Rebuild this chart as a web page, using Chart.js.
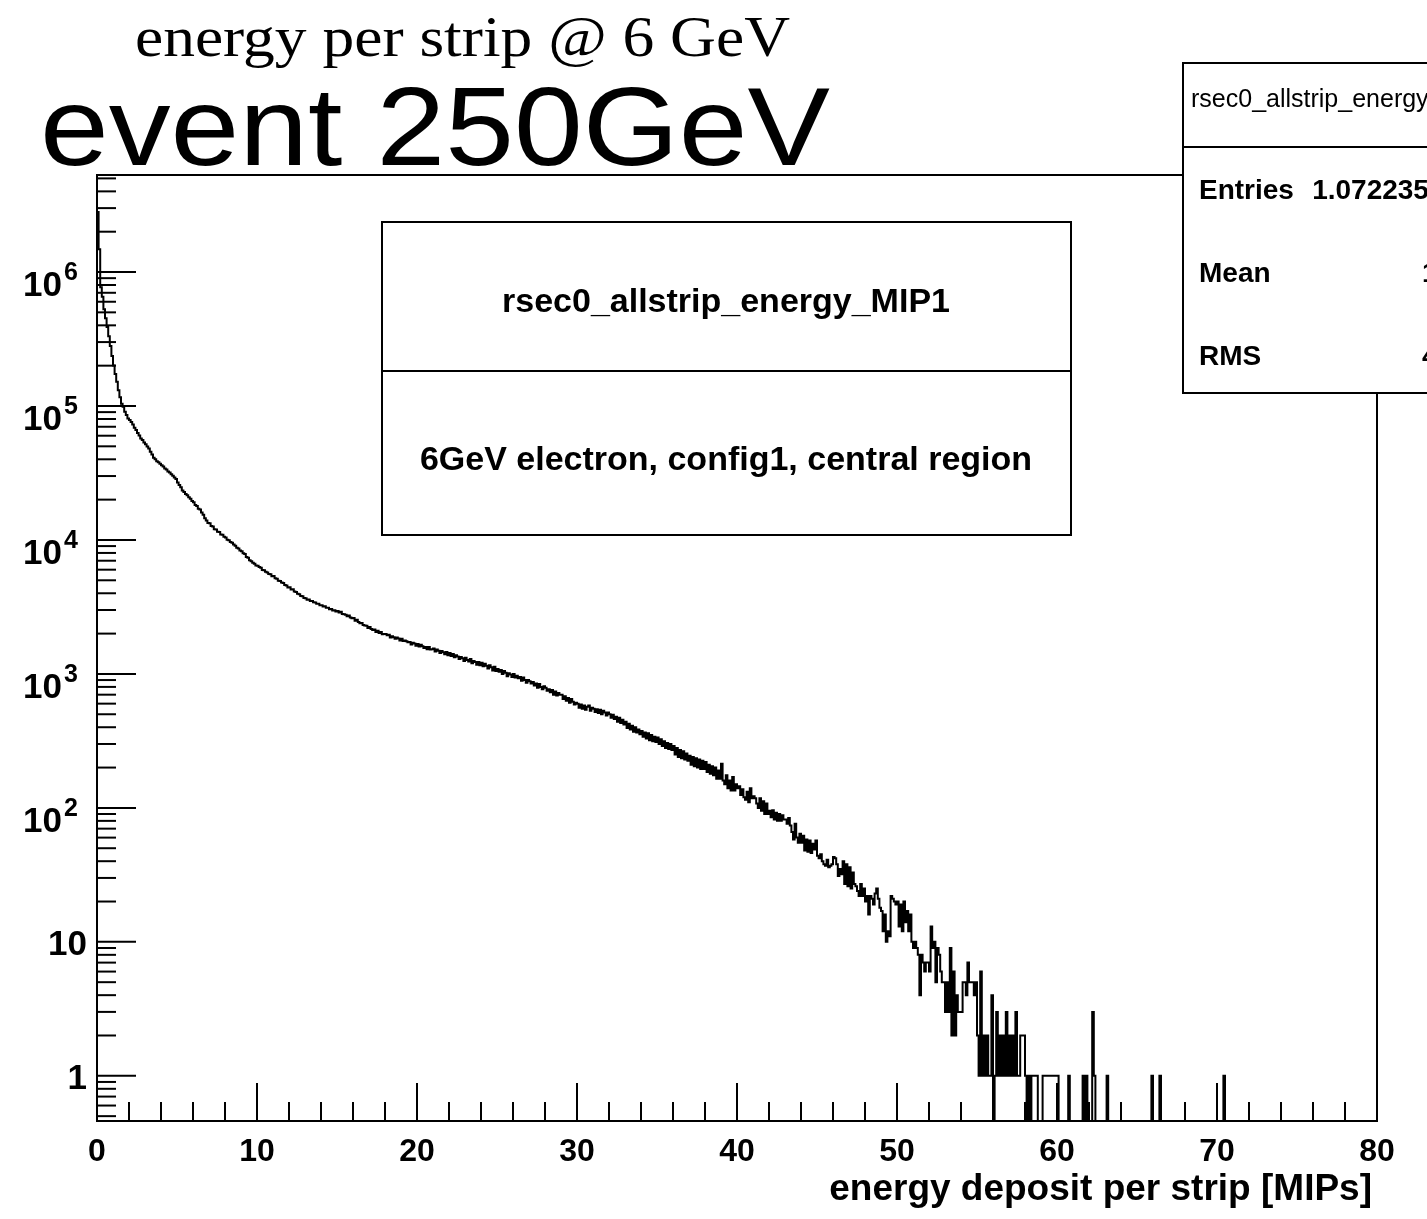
<!DOCTYPE html>
<html><head><meta charset="utf-8">
<script src="https://cdn.jsdelivr.net/npm/chart.js@4.4.1/dist/chart.umd.min.js"></script>
<style>html,body{margin:0;padding:0;background:#fff;overflow:hidden}canvas{display:block}</style>
</head><body>
<canvas id="c" width="1427" height="1219"></canvas>
<script>
// ---- data ----
const binStart = 0;
const binWidth = 0.1; // MIPs per bin
const counts = [
2800000,1480000,770000,655000,528000,452000,388000,331000,281000,236000,
201000,173000,152000,131000,116000,104000,98500,90500,85500,80500,
78500,75800,72900,68700,66200,62800,60300,57200,55700,53300,
51900,49800,48100,45500,43400,41000,40100,38700,38100,37000,
36100,35400,34100,33600,32500,31900,30900,30200,29200,28500,
26900,25700,24700,23400,22800,22000,21600,20800,20300,19500,
19100,18200,17900,17100,16900,16000,15400,14500,14000,13400,
13300,12700,12600,12000,11950,11500,11450,11000,10950,10550,
10450,10050,9950,9650,9550,9250,9050,8750,8650,8350,
8250,7950,7850,7450,7350,7050,6950,6750,6650,6450,
6420,6280,6190,5960,5930,5780,5720,5560,5540,5360,
5380,5170,5130,4970,4930,4820,4780,4620,4580,4420,
4430,4270,4280,4120,4080,3970,3930,3820,3800,3680,
3670,3580,3590,3500,3500,3430,3420,3340,3340,3260,
3260,3190,3200,3120,3120,3040,3050,2980,2990,2920,
2950,2870,2910,2800,2790,2760,2700,2730,2640,2600,
2610,2490,2540,2440,2390,2400,2320,2300,2290,2200,
2240,2160,2130,2150,2060,2100,2020,2060,1980,1990,
1990,1940,1960,1870,1910,1880,1830,1870,1840,1780,
1830,1760,1780,1750,1720,1730,1660,1710,1690,1620,
1670,1600,1650,1610,1560,1590,1530,1590,1520,1530,
1550,1470,1520,1490,1430,1480,1450,1400,1460,1380,
1430,1360,1410,1330,1380,1350,1290,1340,1310,1250,
1320,1270,1240,1290,1200,1250,1230,1170,1230,1160,
1210,1140,1190,1150,1100,1160,1120,1060,1130,1050,
1090,1040,1070,1000,1050,1020,960,1010,990,950,
1000,940,970,930,950,890,940,900,860,900,
880,850,870,820,850,790,840,800,770,810,
790,750,770,730,760,700,740,690,720,700,
700,650,680,630,660,610,650,620,590,610,
600,560,590,550,580,540,570,580,530,560,
550,520,545,510,540,500,530,515,490,515,
500,470,495,460,480,440,470,430,455,420,
440,395,425,385,410,370,400,365,385,355,
375,340,365,330,360,320,350,315,340,310,
335,300,325,290,315,280,305,275,300,270,
290,250,280,240,270,235,265,230,255,225,
245,210,240,205,235,200,230,195,225,195,
220,185,210,180,205,175,200,165,190,165,
214,160,150,175,140,160,135,170,135,150,
140,145,125,138,120,115,132,110,140,118,
122,118,108,100,118,95,112,90,108,90,
95,85,96,82,92,80,90,80,88,82,
82,76,84,74,66,58,76,60,55,64,
55,62,48,58,47,57,46,54,49,57,
44,42,45,40,38,37,41,36,37,38,
43,42,38,31,35,32,40,27,38,26,
36,25,33,27,26,24,22,27,22,25,
20,22,16,22,21,19,23,25,21,18,
17,12,16,10,12,11,22,21,20,19,
20,13,19,12,20,14,17,12,16,10,
9,10,9,8,4,8,7,6,7,7,
6,13,9,10,5,9,8,6,5,5,
3,5,3,9,2,6,2,4,3,3,
3,5,5,4,7,5,5,5,4,5,
2,1,6,1,2,1,2,1,1,4,
0,1,3,1,2,1,2,1,3,1,
2,1,2,1,3,1,1,2,2,2,
1,0,1,0,1,1,1,1,0,0,
0,1,1,1,1,1,1,1,1,1,
1,0,0,0,0,0,0,1,0,0,
0,0,0,0,0,0,1,0,1,0,
0,0,3,1,0,0,0,0,0,0,
0,1,0,0,0,0,0,0,0,0,
0,0,0,0,0,0,0,0,0,0,
0,0,0,0,0,0,0,0,0,1,
0,0,0,0,1,0,0,0,0,0,
0,0,0,0,0,0,0,0,0,0,
0,0,0,0,0,0,0,0,0,0,
0,0,0,0,0,0,0,0,0,0,
0,0,0,0,1,0,0,0,0,0,
0,0,0,0,0,0,0,0,0,0,
0,0,0,0,0,0,0,0,0,0,
0,0,0,0,0,0,0,0,0,0,
0,0,0,0,0,0,0,0,0,0,
0,0,0,0,0,0,0,0,0,0,
0,0,0,0,0,0,0,0,0,0,
0,0,0,0,0,0,0,0,0,0,
0,0,0,0,0,0,0,0,0,0,
0,0,0,0,0,0,0,0,0,0
];
const xRange = [0, 80];
const yRange = [0.46, 5.3e6];
const xMajorTicks = [0, 10, 20, 30, 40, 50, 60, 70, 80];
const xTickLabels = ['0', '10', '20', '30', '40', '50', '60', '70', '80'];
const yMajorTicks = [1, 10, 1e2, 1e3, 1e4, 1e5, 1e6];
const yTickBase = ['1', '10', '10', '10', '10', '10', '10'];
const yTickExp = ['', '', '2', '3', '4', '5', '6'];
const xAxisTitle = 'energy deposit per strip [MIPs]';
const titleTop = 'energy per strip @ 6 GeV';
const titleMain = 'event 250GeV';
const paveTitle = 'rsec0_allstrip_energy_MIP1';
const paveText = '6GeV electron, config1, central region';
const statsTitle = 'rsec0_allstrip_energy_MIP1';
const statsLabels = ['Entries', 'Mean', 'RMS'];
const statsValues = ['1.072235e+07', '1.373', '4.046'];

// ---- build dataset (histogram as step line) ----
const pts = counts.map((c, i) => ({x: binStart + i * binWidth, y: c > 0 ? c : yRange[0]}));
pts.push({x: binStart + counts.length * binWidth, y: counts[counts.length - 1] > 0 ? counts[counts.length - 1] : yRange[0]});

const SANS = '"Liberation Sans", Arial, Helvetica, sans-serif';
const SERIF = '"Liberation Serif", "Times New Roman", serif';

function fitText(ctx, txt, x, y, font, width, align) {
  ctx.save();
  ctx.font = font;
  const w = ctx.measureText(txt).width;
  const s = width ? width / w : 1;
  ctx.translate(x, y);
  ctx.scale(s, 1);
  ctx.textAlign = align || 'left';
  ctx.textBaseline = 'alphabetic';
  ctx.fillText(txt, 0, 0);
  ctx.restore();
}
function line(ctx, x1, y1, x2, y2) { ctx.beginPath(); ctx.moveTo(x1, y1); ctx.lineTo(x2, y2); ctx.stroke(); }

const rootPlugin = {
  id: 'rootStyle',
  beforeDraw(chart) {
    const ctx = chart.ctx;
    ctx.save(); ctx.fillStyle = '#fff'; ctx.fillRect(0, 0, chart.width, chart.height); ctx.restore();
  },
  afterDraw(chart) {
    const {ctx, chartArea: a, scales: {x, y}} = chart;
    ctx.save();
    ctx.strokeStyle = '#000'; ctx.fillStyle = '#000'; ctx.lineWidth = 2;
    // frame
    ctx.strokeRect(a.left, a.top, a.right - a.left, a.bottom - a.top);
    // x ticks
    for (let v = xRange[0]; v <= xRange[1]; v += 2) {
      const px = x.getPixelForValue(v);
      const major = v % 10 === 0;
      line(ctx, px, a.bottom, px, a.bottom - (major ? 38 : 19));
    }
    // y ticks
    for (let d = 0.1; d <= 1e6 * 1.001; d *= 10) {
      for (let m = 1; m <= 9; m++) {
        const v = m * d;
        if (v < yRange[0] || v > yRange[1]) continue;
        const py = y.getPixelForValue(v);
        line(ctx, a.left, py, a.left + (m === 1 ? 39 : 19), py);
      }
    }
    // x labels
    ctx.font = 'bold 32px ' + SANS;
    ctx.textAlign = 'center'; ctx.textBaseline = 'alphabetic';
    xMajorTicks.forEach((v, i) => ctx.fillText(xTickLabels[i], x.getPixelForValue(v), 1161));
    // y labels
    yMajorTicks.forEach((v, i) => {
      const py = y.getPixelForValue(v);
      ctx.textAlign = 'right';
      if (yTickExp[i]) {
        ctx.font = 'bold 35px ' + SANS;
        ctx.fillText(yTickBase[i], 62, py + 24);
        ctx.font = 'bold 25px ' + SANS;
        ctx.textAlign = 'left';
        ctx.fillText(yTickExp[i], 64, py + 8);
      } else {
        ctx.font = 'bold 35px ' + SANS;
        ctx.fillText(yTickBase[i], 87, py + 13);
      }
    });
    // x axis title
    ctx.font = 'bold 37px ' + SANS;
    ctx.textAlign = 'right';
    ctx.fillText(xAxisTitle, 1372, 1200);

    // pave text box
    ctx.fillStyle = '#fff';
    ctx.fillRect(382, 222, 689, 313);
    ctx.strokeRect(382, 222, 689, 313);
    line(ctx, 382, 371, 1071, 371);
    ctx.fillStyle = '#000';
    ctx.font = 'bold 34px ' + SANS;
    ctx.textAlign = 'center';
    ctx.fillText(paveTitle, 726, 312);
    ctx.fillText(paveText, 726, 470);

    // stats box
    ctx.fillStyle = '#fff';
    ctx.fillRect(1183, 63, 300, 330);
    ctx.strokeRect(1183, 63, 300, 330);
    line(ctx, 1183, 147, 1483, 147);
    ctx.fillStyle = '#000';
    ctx.textAlign = 'left';
    ctx.font = '25px ' + SANS;
    ctx.fillText(statsTitle, 1191, 107);
    const rows = [199, 282, 365];
    statsLabels.forEach((lab, i) => {
      ctx.font = 'bold 28px ' + SANS;
      ctx.textAlign = 'left';
      ctx.fillText(lab, 1199, rows[i]);
      ctx.textAlign = 'right';
      ctx.fillText(statsValues[i], 1492, rows[i]);
    });

    // titles
    fitText(ctx, titleTop, 135, 56, '58px ' + SERIF, 655, 'left');
    fitText(ctx, titleMain, 40, 165, '112px ' + SANS, 790, 'left');
    ctx.restore();
  }
};

new Chart(document.getElementById('c'), {
  type: 'line',
  data: {
    datasets: [{
      data: pts,
      stepped: true,
      borderColor: '#000',
      borderWidth: 2,
      pointRadius: 0,
      fill: false,
      tension: 0
    }]
  },
  options: {
    responsive: false,
    animation: false,
    devicePixelRatio: 1,
    layout: {padding: {left: 97, right: 50, top: 175, bottom: 98}},
    plugins: {legend: {display: false}, tooltip: {enabled: false}, title: {display: false}},
    scales: {
      x: {type: 'linear', min: xRange[0], max: xRange[1], display: false},
      y: {type: 'logarithmic', min: yRange[0], max: yRange[1], display: false}
    }
  },
  plugins: [rootPlugin]
});
</script>
</body></html>
